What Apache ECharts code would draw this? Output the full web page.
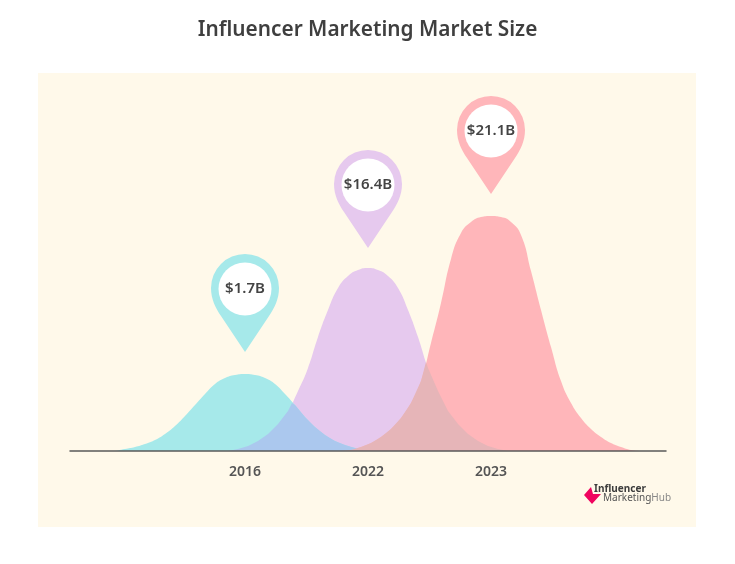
<!DOCTYPE html>
<html>
<head>
<meta charset="utf-8">
<title>Influencer Marketing Market Size</title>
<script src="https://cdn.jsdelivr.net/npm/echarts@6/dist/echarts.min.js"></script>
<style>
  html, body { margin: 0; padding: 0; background: #fff; }
  #chart { width: 735px; height: 564px; }
</style>
</head>
<body>
<div id="chart"></div>
<script>
var yearLabels = ['2016', '2022', '2023'];
var yearPositions = [175, 298, 421];
var pinLabels = ['$1.7B', '$16.4B', '$21.1B'];
var pinHeights = [99, 203, 257];

// curves, [position, height]
var curve2016 = [[45,0],[55,2],[65,4],[75,7],[85,11],[95,17],[105,25],[115,35],[125,46],[135,57],[145,67],[155,73],[165,76],[175,77],[185,76],[195,73],[205,67],[215,57],[225,46],[235,34],[245,24],[255,16],[265,10],[275,6],[285,3],[295,1],[305,0]];
var curve2022 = [[158,0],[168,2],[178,5],[188,10],[198,17],[208,27],[218,40],[228,60],[238,83],[248,114],[258,141],[268,163],[278,175],[288,181],[298,183],[308,181],[318,175],[328,163],[338,141],[348,114],[358,83],[368,60],[378,40],[388,27],[398,17],[408,10],[418,5],[428,2],[438,0]];
var curve2023 = [[271,0],[281,1],[291,4],[301,8],[311,14],[321,22],[331,33],[341,48],[351,70],[361,108],[371,148],[381,192],[391,218],[401,229],[411,234],[421,235],[431,234],[441,229],[451,216],[461,180],[471,141],[481,104],[491,70],[501,48],[511,33],[521,22],[531,14],[541,8],[551,4],[561,1],[571,0]];
// where two curves overlap the colour is its own flat tone
var overlap2016 = [[158,0],[168,2],[178,5],[188,10],[198,17],[208,27],[218,40],[222,48],[225,46],[235,34],[245,24],[255,16],[265,10],[275,6],[285,3],[295,1],[305,0]];
var overlap2023 = [[271,0],[281,1],[291,4],[301,8],[311,14],[321,22],[331,33],[341,48],[351,70],[356,89],[358,83],[368,60],[378,40],[388,27],[398,17],[408,10],[418,5],[428,2],[438,0]];

var colors = ['#a6e9ea', '#e6c9ee', '#ffb6ba'];
var pinPath = 'path://M34 0A34 34 0 0 1 68 34C68 45 63.5 54 58 62L34 98L10 62C4.5 54 0 45 0 34A34 34 0 0 1 34 0Z';
var fontName = '"Noto Sans", sans-serif';

function makeArea(name, data, color, z, smooth) {
  return {
    name: name,
    type: 'line',
    data: data,
    smooth: smooth,
    showSymbol: false,
    silent: true,
    z: z,
    lineStyle: { width: 0 },
    areaStyle: { color: color, opacity: 1, origin: 'start' }
  };
}

function makePin(index) {
  var coord = [yearPositions[index], pinHeights[index]];
  return {
    silent: true,
    animation: false,
    data: [{
      coord: coord,
      symbol: pinPath,
      symbolSize: [68, 98],
      symbolOffset: [0, '-50%'],
      itemStyle: { color: colors[index] },
      label: { show: false }
    }, {
      coord: coord,
      symbol: 'circle',
      symbolSize: 53,
      symbolOffset: [0, -63],
      itemStyle: { color: '#fff' },
      label: {
        show: true,
        position: 'inside',
        formatter: pinLabels[index],
        color: '#444',
        fontFamily: fontName,
        fontWeight: 600,
        fontSize: 15
      }
    }]
  };
}

var series = [
  makeArea('2022', curve2022, colors[1], 2, 0.5),
  makeArea('2016', curve2016, colors[0], 3, 0.5),
  makeArea('2023', curve2023, colors[2], 4, 0.5),
  makeArea('2016/2022', overlap2016, '#abc8ee', 5, false),
  makeArea('2022/2023', overlap2023, '#e6b5b8', 5, false)
];
series[0].markPoint = makePin(1);
series[1].markPoint = makePin(0);
series[2].markPoint = makePin(2);

var chart = echarts.init(document.getElementById('chart'));
chart.setOption({
  animation: false,
  backgroundColor: '#fff',
  title: {
    text: 'Influencer Marketing Market Size',
    left: 'center',
    top: 15,
    textStyle: { color: '#3f3f3f', fontFamily: fontName, fontWeight: 600, fontSize: 20.8 }
  },
  grid: { left: 70, right: 69, top: 73, bottom: 113 },
  xAxis: {
    type: 'value',
    min: 0,
    max: 596,
    z: 10,
    splitLine: { show: false },
    axisTick: { show: false },
    axisLine: { show: true, onZero: false, lineStyle: { color: '#5a5a5a', width: 1.5 } },
    axisLabel: {
      customValues: yearPositions,
      margin: 14,
      color: '#555',
      fontFamily: fontName,
      fontWeight: 600,
      fontSize: 14,
      formatter: function (v) {
        return yearLabels[yearPositions.indexOf(v)];
      }
    }
  },
  yAxis: { type: 'value', min: 0, max: 378, show: false },
  graphic: [
    { type: 'rect', z: -10, silent: true, shape: { x: 38, y: 73, width: 658, height: 454 }, style: { fill: '#fff9ea' } },
    { type: 'polygon', z: 10, silent: true, shape: { points: [[584,495],[591,487],[593,494],[601,494],[592,504]] }, style: { fill: '#f0045f' } },
    { type: 'text', z: 10, silent: true, x: 594, y: 484, style: { text: 'Influencer', fill: '#3d3d3d', font: '700 10px ' + fontName } },
    { type: 'text', z: 10, silent: true, x: 603, y: 493, style: {
      text: '{a|Marketing}{b|Hub}',
      rich: {
        a: { fill: '#555', font: '400 10px ' + fontName },
        b: { fill: '#888', font: '400 10px ' + fontName }
      }
    } }
  ],
  series: series
});
</script>
</body>
</html>
